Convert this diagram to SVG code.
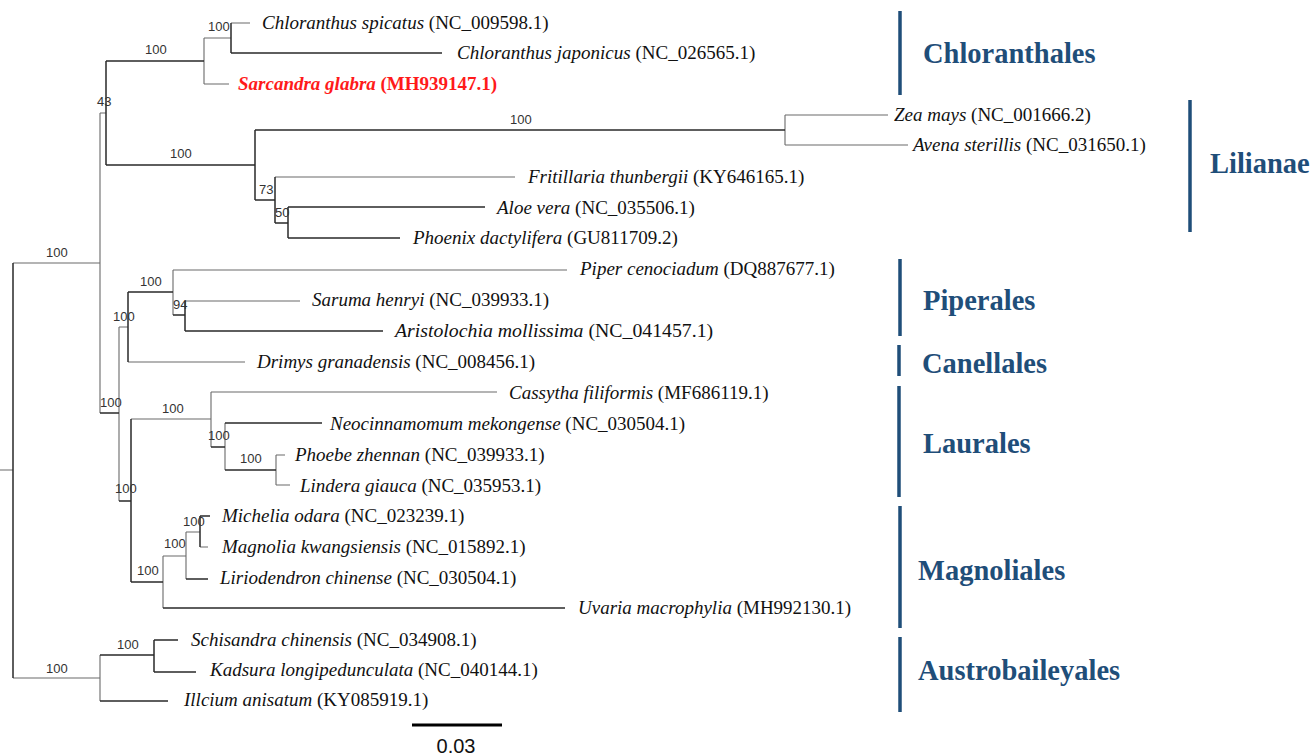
<svg xmlns="http://www.w3.org/2000/svg" width="1312" height="756" viewBox="0 0 1312 756">
<style>
.d{stroke:#2a2a2a;stroke-width:1.5;fill:none}
.g{stroke:#6a6a6a;stroke-width:1.1;fill:none}
.sp{font-family:"Liberation Serif","Times New Roman",serif;font-size:19px;fill:#111}
.sp .i{font-style:italic}
.hl{font-weight:bold;fill:#ff1a1a}
.bs{font-family:"Liberation Sans",Arial,sans-serif;font-size:13px;fill:#333}
.cl{font-family:"Liberation Serif","Times New Roman",serif;font-size:28.5px;font-weight:bold;fill:#1f4e79}
.bar{stroke:#1f4e79;stroke-width:3.5}
</style>
<rect width="1312" height="756" fill="#fff"/>
<g id="connectors">
<path class="g" d="M0 470H13M13 263H100M100 113V413M100 113H106M204 38V84M204 38H231M231 23H250M204 84H229M785 115V145M785 115H888M785 145H908M275 177H515M119 327V501M119 327H128M173 270V315M173 270H567M185 301H300M128 362H245M131 419H211M211 392V447M211 392H497M225 423V470M276 455V485M276 455H285M276 485H290M163 556V608M163 556H186M186 532V579M186 532H200M200 547H208M13 678H100M100 655V701"/>
<path class="d" d="M13 263V678M106 61V165M106 61H204M231 23V53M231 53H442M106 165H255M255 130V200M255 130H785M255 200H275M275 177V223M275 223H288M288 207V238M288 207H485M288 238H400M100 413H119M128 292V362M128 292H173M173 315H185M185 301V331M185 331H383M119 501H131M131 419V582M211 447H225M225 423H322M225 470H276M131 582H163M163 608H565M186 579H208M200 516V547M200 516H210M100 655H154M154 640V672M154 640H178M154 672H196M100 701H168"/>
</g>
<g id="support">
<text class="bs" x="208" y="31">100</text>
<text class="bs" x="145" y="54">100</text>
<text class="bs" x="97" y="106">43</text>
<text class="bs" x="170" y="158">100</text>
<text class="bs" x="510" y="124">100</text>
<text class="bs" x="259" y="194">73</text>
<text class="bs" x="275" y="217">50</text>
<text class="bs" x="46" y="257">100</text>
<text class="bs" x="140" y="286">100</text>
<text class="bs" x="173" y="309">94</text>
<text class="bs" x="113" y="321">100</text>
<text class="bs" x="100" y="407">100</text>
<text class="bs" x="162" y="413">100</text>
<text class="bs" x="208" y="440">100</text>
<text class="bs" x="240" y="463">100</text>
<text class="bs" x="115" y="493">100</text>
<text class="bs" x="183" y="526">100</text>
<text class="bs" x="164" y="548">100</text>
<text class="bs" x="137" y="575">100</text>
<text class="bs" x="117" y="649">100</text>
<text class="bs" x="46" y="673">100</text>
</g>
<g id="taxa">
<g id="t1"><text class="sp" x="262" y="29"><tspan class="i">Chloranthus spicatus</tspan> (NC_009598.1)</text></g>
<g id="t2"><text class="sp" x="457" y="59"><tspan class="i">Chloranthus japonicus</tspan> (NC_026565.1)</text></g>
<g id="t3"><text class="sp hl" x="238" y="90"><tspan class="i">Sarcandra glabra</tspan> (MH939147.1)</text></g>
<g id="t4"><text class="sp" x="894" y="121"><tspan class="i">Zea mays</tspan> (NC_001666.2)</text></g>
<g id="t5"><text class="sp" x="913" y="151"><tspan class="i">Avena sterillis</tspan> (NC_031650.1)</text></g>
<g id="t6"><text class="sp" x="528" y="183"><tspan class="i">Fritillaria thunbergii</tspan> (KY646165.1)</text></g>
<g id="t7"><text class="sp" x="497" y="214"><tspan class="i">Aloe vera</tspan> (NC_035506.1)</text></g>
<g id="t8"><text class="sp" x="413" y="244"><tspan class="i">Phoenix dactylifera</tspan> (GU811709.2)</text></g>
<g id="t9"><text class="sp" x="580" y="275"><tspan class="i">Piper cenociadum</tspan> (DQ887677.1)</text></g>
<g id="t10"><text class="sp" x="312" y="306"><tspan class="i">Saruma henryi</tspan> (NC_039933.1)</text></g>
<g id="t11"><text class="sp" x="395" y="337" style="font-size:19.8px"><tspan class="i">Aristolochia mollissima</tspan> (NC_041457.1)</text></g>
<g id="t12"><text class="sp" x="257" y="368"><tspan class="i">Drimys granadensis</tspan> (NC_008456.1)</text></g>
<g id="t13"><text class="sp" x="509" y="399"><tspan class="i">Cassytha filiformis</tspan> (MF686119.1)</text></g>
<g id="t14"><text class="sp" x="330" y="430"><tspan class="i">Neocinnamomum mekongense</tspan> (NC_030504.1)</text></g>
<g id="t15"><text class="sp" x="295" y="461"><tspan class="i">Phoebe zhennan</tspan> (NC_039933.1)</text></g>
<g id="t16"><text class="sp" x="300" y="492"><tspan class="i">Lindera giauca</tspan> (NC_035953.1)</text></g>
<g id="t17"><text class="sp" x="222" y="522"><tspan class="i">Michelia odara</tspan> (NC_023239.1)</text></g>
<g id="t18"><text class="sp" x="222" y="553"><tspan class="i">Magnolia kwangsiensis</tspan> (NC_015892.1)</text></g>
<g id="t19"><text class="sp" x="220" y="584"><tspan class="i">Liriodendron chinense</tspan> (NC_030504.1)</text></g>
<g id="t20"><text class="sp" x="578" y="614"><tspan class="i">Uvaria macrophylia</tspan> (MH992130.1)</text></g>
<g id="t21"><text class="sp" x="191" y="646"><tspan class="i">Schisandra chinensis</tspan> (NC_034908.1)</text></g>
<g id="t22"><text class="sp" x="210" y="676"><tspan class="i">Kadsura longipedunculata</tspan> (NC_040144.1)</text></g>
<g id="t23"><text class="sp" x="184" y="706"><tspan class="i">Illcium anisatum</tspan> (KY085919.1)</text></g>
</g>
<g id="clades">
<g id="c-chloranthales"><line class="bar" x1="900" y1="11" x2="900" y2="95"/><text class="cl" x="923" y="63">Chloranthales</text></g>
<g id="c-lilianae"><line class="bar" x1="1190" y1="100" x2="1190" y2="232"/><text class="cl" x="1210" y="173">Lilianae</text></g>
<g id="c-piperales"><line class="bar" x1="900" y1="259" x2="900" y2="336"/><text class="cl" x="923" y="310">Piperales</text></g>
<g id="c-canellales"><line class="bar" x1="899" y1="345" x2="899" y2="376"/><text class="cl" x="922" y="373">Canellales</text></g>
<g id="c-laurales"><line class="bar" x1="899" y1="386" x2="899" y2="497"/><text class="cl" x="923" y="453">Laurales</text></g>
<g id="c-magnoliales"><line class="bar" x1="900" y1="506" x2="900" y2="628"/><text class="cl" x="918" y="580">Magnoliales</text></g>
<g id="c-austrobaileyales"><line class="bar" x1="900" y1="637" x2="900" y2="712"/><text class="cl" x="918" y="680">Austrobaileyales</text></g>
</g>
<g id="scale">
<line x1="412" y1="725" x2="502" y2="725" stroke="#000" stroke-width="3"/>
<text x="456" y="753" text-anchor="middle" font-family="Liberation Sans,Arial,sans-serif" font-size="20" fill="#111">0.03</text>
</g>
</svg>
